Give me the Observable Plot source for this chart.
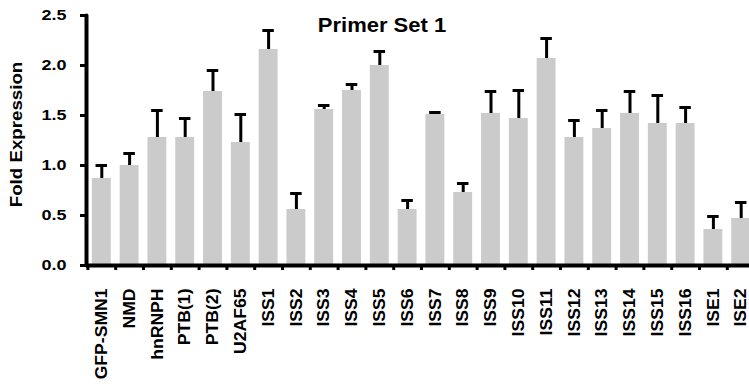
<!DOCTYPE html>
<html><head><meta charset="utf-8">
<script src="https://cdn.jsdelivr.net/npm/d3@7"></script>
<script src="https://cdn.jsdelivr.net/npm/@observablehq/plot@0.6"></script>
<style>html,body{margin:0;padding:0;background:#fff} svg{display:block}</style>
</head><body><div id="chart"></div>
<script>
const categories = ["GFP-SMN1","NMD","hnRNPH","PTB(1)","PTB(2)","U2AF65","ISS1","ISS2","ISS3","ISS4","ISS5","ISS6","ISS7","ISS8","ISS9","ISS10","ISS11","ISS12","ISS13","ISS14","ISS15","ISS16","ISE1","ISE2"];
const foldExpression = [0.87,1.00,1.28,1.28,1.74,1.23,2.16,0.56,1.56,1.75,2.00,0.56,1.51,0.73,1.52,1.47,2.07,1.28,1.37,1.52,1.42,1.42,0.36,0.47];
const errors = [0.13,0.12,0.27,0.19,0.21,0.28,0.19,0.16,0.04,0.06,0.14,0.09,0.02,0.09,0.22,0.28,0.20,0.17,0.18,0.22,0.28,0.16,0.13,0.16];
const yTicks = [0,0.5,1.0,1.5,2.0,2.5];
const title = "Primer Set 1";
const yLabel = "Fold Expression";

const data = categories.map((c, i) => ({cat: c, value: foldExpression[i], err: errors[i]}));
const xRange = [87.4, 754.6];
const step = (xRange[1] - xRange[0]) / categories.length;

const svg = Plot.plot({
  width: 749, height: 392,
  marginLeft: 86, marginRight: 0, marginTop: 15, marginBottom: 127,
  style: {fontFamily: "'Liberation Sans', Arial, sans-serif", fontWeight: "bold", background: "#fff", color: "#000", overflow: "hidden"},
  x: {type: "band", domain: categories, range: xRange, paddingInner: 0.32, paddingOuter: 0.16, round: false},
  y: {domain: [0, 2.5]},
  marks: [
    Plot.barY(data, {x: "cat", y: "value", fill: "#cbcbcb"}),
    Plot.ruleX(data, {x: "cat", y1: "value", y2: d => d.value + d.err, stroke: "#000", strokeWidth: 3}),
    Plot.tickY(data, {x: "cat", y: d => d.value + d.err, stroke: "#000", strokeWidth: 3, inset: 3.7}),
    Plot.axisY({ticks: yTicks, tickFormat: d3.format(".1f"), tickSize: 6, tickPadding: 14, fontSize: 15, strokeWidth: 3, label: null}),
    Plot.axisX({text: null, tickSize: 5, dx: -step / 2, strokeWidth: 3, label: null}),
    Plot.axisX({tickSize: 0, tickPadding: 23, tickRotate: -90, fontSize: 16, label: null}),
    Plot.ruleY([0], {stroke: "#000", strokeWidth: 4}),
    Plot.frame({anchor: "left", stroke: "#000", strokeWidth: 4, strokeLinecap: "round"}),
    Plot.text([title], {frameAnchor: "top", dx: -36, dy: 2, fontSize: 20, fontWeight: "bold"}),
    Plot.text([yLabel], {frameAnchor: "left", textAnchor: "middle", rotate: -90, dx: -69.5, dy: -6, fontSize: 16, fontWeight: "bold"})
  ]
});
document.getElementById("chart").appendChild(svg);

// widen glyphs along the text direction (the reference font is drawn wider than Arial)
function stretch(texts, k) {
  texts.forEach(t => {
    const tr = t.getAttribute("transform") || "";
    t.setAttribute("transform", tr + ` scale(${k},1)`);
  });
}
stretch([...svg.querySelectorAll('g[aria-label="y-axis tick label"] text')], 1.2);
stretch([...svg.querySelectorAll('g[aria-label="x-axis tick label"] text')], 1.1);
const textGroups = [...svg.querySelectorAll('g[aria-label="text"]')];
stretch([...textGroups[0].querySelectorAll("text")], 1.1);
stretch([...textGroups[1].querySelectorAll("text")], 1.17);
</script>
</body></html>
